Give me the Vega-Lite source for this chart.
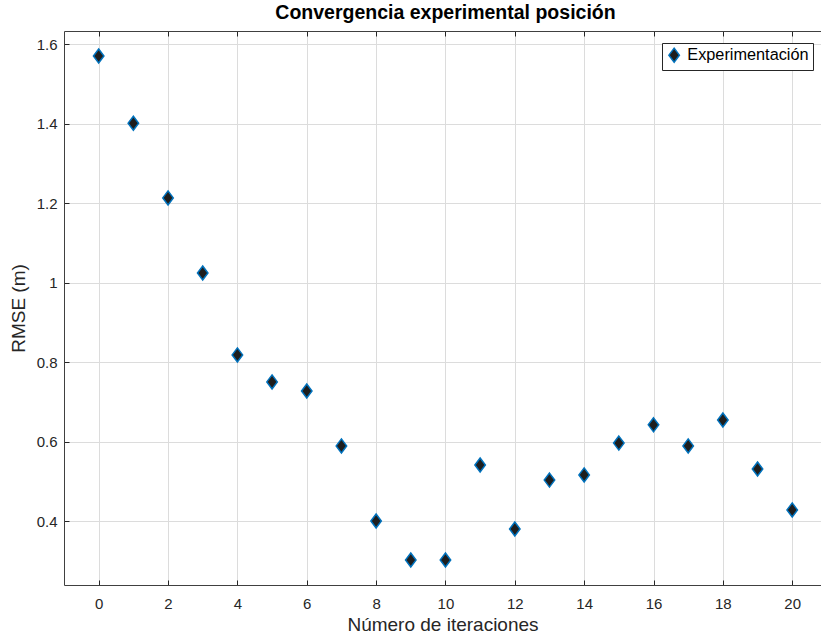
{
  "$schema": "https://vega.github.io/schema/vega-lite/v6.json",
  "autosize": {"type": "none"},
  "padding": {"left": 64, "top": 31, "right": 0, "bottom": 56},
  "width": 757,
  "height": 554,
  "background": "white",
  "title": {
    "text": "Convergencia experimental posición",
    "font": "Liberation Sans",
    "fontSize": 19.5,
    "fontWeight": "bold",
    "color": "#000000",
    "anchor": "middle",
    "dx": 3,
    "offset": 7
  },
  "data": {
    "values": [
      {"iter": 0, "rmse": 1.570, "serie": "Experimentación"},
      {"iter": 1, "rmse": 1.401, "serie": "Experimentación"},
      {"iter": 2, "rmse": 1.213, "serie": "Experimentación"},
      {"iter": 3, "rmse": 1.024, "serie": "Experimentación"},
      {"iter": 4, "rmse": 0.818, "serie": "Experimentación"},
      {"iter": 5, "rmse": 0.750, "serie": "Experimentación"},
      {"iter": 6, "rmse": 0.727, "serie": "Experimentación"},
      {"iter": 7, "rmse": 0.589, "serie": "Experimentación"},
      {"iter": 8, "rmse": 0.400, "serie": "Experimentación"},
      {"iter": 9, "rmse": 0.302, "serie": "Experimentación"},
      {"iter": 10, "rmse": 0.302, "serie": "Experimentación"},
      {"iter": 11, "rmse": 0.541, "serie": "Experimentación"},
      {"iter": 12, "rmse": 0.380, "serie": "Experimentación"},
      {"iter": 13, "rmse": 0.503, "serie": "Experimentación"},
      {"iter": 14, "rmse": 0.516, "serie": "Experimentación"},
      {"iter": 15, "rmse": 0.596, "serie": "Experimentación"},
      {"iter": 16, "rmse": 0.642, "serie": "Experimentación"},
      {"iter": 17, "rmse": 0.589, "serie": "Experimentación"},
      {"iter": 18, "rmse": 0.654, "serie": "Experimentación"},
      {"iter": 19, "rmse": 0.531, "serie": "Experimentación"},
      {"iter": 20, "rmse": 0.428, "serie": "Experimentación"}
    ]
  },
  "resolve": {"axis": {"x": "independent", "y": "independent"}},
  "layer": [
    {
      "mark": {
        "type": "point",
        "filled": true,
        "shape": "M0,-1L0.75,0L0,1L-0.75,0Z",
        "size": 196,
        "fill": "#1e1e1e",
        "stroke": "#0072BD",
        "strokeWidth": 1.5,
        "opacity": 1
      },
      "encoding": {
        "x": {
          "field": "iter",
          "type": "quantitative",
          "scale": {"domain": [-1, 20.83], "nice": false, "zero": false},
          "axis": {
            "orient": "bottom",
            "title": "Número de iteraciones",
            "values": [0, 2, 4, 6, 8, 10, 12, 14, 16, 18, 20],
            "format": "~g",
            "grid": true,
            "gridColor": "#dcdcdc",
            "domainColor": "#404040",
            "domainWidth": 1,
            "tickColor": "#262626",
            "tickSize": -5,
            "labelPadding": 16,
            "labelFont": "Liberation Sans",
            "labelFontSize": 15,
            "labelColor": "#262626",
            "titleFont": "Liberation Sans",
            "titleFontSize": 19,
            "titleFontWeight": "normal",
            "titleColor": "#262626",
            "titlePadding": 4
          }
        },
        "y": {
          "field": "rmse",
          "type": "quantitative",
          "scale": {"domain": [0.239, 1.633], "nice": false, "zero": false},
          "axis": {
            "orient": "left",
            "title": "RMSE (m)",
            "values": [0.4, 0.6, 0.8, 1, 1.2, 1.4, 1.6],
            "format": "~g",
            "grid": true,
            "gridColor": "#dcdcdc",
            "domainColor": "#404040",
            "domainWidth": 1,
            "tickColor": "#262626",
            "tickSize": -5,
            "labelPadding": 12,
            "labelFont": "Liberation Sans",
            "labelFontSize": 15,
            "labelColor": "#262626",
            "titleFont": "Liberation Sans",
            "titleFontSize": 19,
            "titleFontWeight": "normal",
            "titleColor": "#262626",
            "titlePadding": 8
          }
        },
        "color": {
          "field": "serie",
          "type": "nominal",
          "scale": {"range": ["#1e1e1e"]},
          "legend": {
            "title": null,
            "orient": "none",
            "legendX": 598,
            "legendY": 12,
            "symbolType": "M0,-1L0.75,0L0,1L-0.75,0Z",
            "symbolSize": 196,
            "symbolFillColor": "#1e1e1e",
            "symbolStrokeColor": "#0072BD",
            "symbolStrokeWidth": 1.5,
            "symbolOpacity": 1,
            "labelFont": "Liberation Sans",
            "labelFontSize": 16.3,
            "labelColor": "#000000",
            "labelOffset": 5,
            "strokeColor": "#262626",
            "fillColor": "white",
            "padding": 4
          }
        }
      }
    },
    {
      "mark": {"type": "point", "opacity": 0},
      "encoding": {
        "x": {
          "field": "iter",
          "type": "quantitative",
          "axis": {
            "orient": "top",
            "title": null,
            "labels": false,
            "grid": false,
            "values": [0, 2, 4, 6, 8, 10, 12, 14, 16, 18, 20],
            "domainColor": "#404040",
            "tickColor": "#262626",
            "tickSize": -5
          }
        },
        "y": {
          "field": "rmse",
          "type": "quantitative",
          "axis": {
            "orient": "right",
            "title": null,
            "labels": false,
            "grid": false,
            "domain": false,
            "ticks": false
          }
        }
      }
    }
  ],
  "config": {
    "view": {"stroke": null}
  }
}
